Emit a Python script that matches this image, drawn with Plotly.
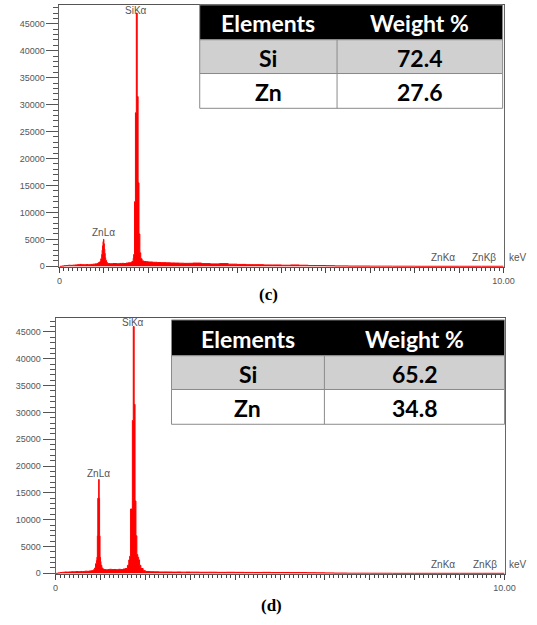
import plotly.graph_objects as go

# ---------------- data ----------------
energy_c = [0.00, 0.05, 0.10, 0.15, 0.20, 0.25, 0.30, 0.35, 0.40, 0.45, 0.50, 0.55, 0.60, 0.65,
            0.70, 0.75, 0.80, 0.85, 0.88, 0.91, 0.93, 0.95, 0.96, 0.97, 0.98, 0.99, 1.00, 1.01,
            1.02, 1.03, 1.04, 1.06, 1.08, 1.10, 1.15, 1.20, 1.25, 1.30, 1.35, 1.40, 1.45, 1.50,
            1.55, 1.60, 1.63, 1.66, 1.67, 1.69, 1.71, 1.73, 1.75, 1.77, 1.79, 1.81, 1.83, 1.86,
            1.90, 1.95, 2.00, 2.10, 2.20, 2.30, 2.40, 2.50, 2.60, 2.70, 2.80, 2.90, 3.00, 3.20,
            3.40, 3.60, 3.80, 4.00, 4.20, 4.40, 4.60, 4.80, 5.00, 5.20, 5.40, 5.60, 5.80, 6.00,
            6.20, 6.50, 7.00, 7.50, 8.00, 8.50, 9.00, 9.50, 10.00]
counts_c = [0, 60, 120, 150, 200, 180, 220, 250, 300, 350, 300, 280, 320, 300,
            350, 400, 450, 550, 700, 900, 1400, 2200, 3000, 3800, 4600, 5000, 4200, 3200,
            2400, 1600, 1100, 700, 550, 500, 480, 520, 500, 480, 530, 550, 520, 600,
            650, 700, 900, 1500, 2200, 12000, 28500, 47000, 31500, 15500, 6000, 2500, 1400, 1000,
            900, 850, 800, 750, 700, 680, 650, 620, 600, 580, 550, 560, 600, 500,
            450, 500, 400, 350, 300, 300, 250, 250, 200, 250, 200, 150, 150, 120,
            80, 50, 30, 20, 10, 10, 10, 10, 0]

energy_d = [0.00, 0.05, 0.10, 0.15, 0.20, 0.25, 0.30, 0.35, 0.40, 0.45, 0.50, 0.55, 0.60, 0.65,
            0.70, 0.75, 0.80, 0.84, 0.87, 0.89, 0.91, 0.92, 0.93, 0.94, 0.95, 0.96, 0.97, 0.98,
            0.99, 1.00, 1.01, 1.03, 1.05, 1.08, 1.12, 1.16, 1.20, 1.25, 1.30, 1.35, 1.40, 1.45,
            1.50, 1.55, 1.60, 1.63, 1.65, 1.67, 1.69, 1.71, 1.73, 1.75, 1.77, 1.79, 1.81, 1.83,
            1.85, 1.87, 1.90, 1.95, 2.00, 2.10, 2.20, 2.30, 2.40, 2.50, 2.60, 2.70, 2.80, 2.90,
            3.00, 3.20, 3.40, 3.60, 3.80, 4.00, 4.20, 4.40, 4.60, 4.80, 5.00, 5.20, 5.40, 5.60,
            5.80, 6.00, 6.20, 6.50, 7.00, 7.50, 8.00, 8.50, 9.00, 9.50, 10.00]
counts_d = [0, 80, 150, 200, 250, 230, 260, 300, 280, 330, 300, 350, 320, 400,
            380, 450, 500, 650, 1000, 1800, 2400, 3000, 7000, 14000, 14000, 17500, 14000, 7000,
            3000, 2200, 1500, 1000, 800, 700, 650, 700, 750, 700, 720, 680, 750, 700,
            800, 900, 1500, 2500, 3200, 12000, 12000, 28500, 46000, 31500, 13500, 7000, 3500, 3000,
            2500, 1500, 900, 500, 350, 300, 280, 250, 260, 250, 230, 250, 220, 240,
            220, 200, 210, 180, 200, 180, 170, 160, 180, 150, 160, 140, 150, 120,
            100, 80, 50, 30, 20, 10, 10, 10, 10, 10, 0]

y_tick_vals = [0, 5000, 10000, 15000, 20000, 25000, 30000, 35000, 40000, 45000]
x_tick_vals = [0, 1, 2, 3, 4, 5, 6, 7, 8, 9, 10]
x_tick_text = ["0", "", "", "", "", "", "", "", "", "", "10.00"]

elements = ["Si", "Zn"]
weight_c = ["72.4", "27.6"]
weight_d = ["65.2", "34.8"]
table_header = ["Elements", "Weight %"]

peak_labels = ["ZnLα", "SiKα"]
peak_energy_c = [0.99, 1.73]
peak_label_y_c = [6300, 47400]
peak_energy_d = [0.96, 1.73]
peak_label_y_d = [18700, 46700]
line_labels = ["ZnKα", "ZnKβ"]
line_energy = [8.63, 9.57]

W, H = 537, 625


def px(x):
    return x / W


def py(y):
    return 1 - y / H


fig = go.Figure()

red = "rgb(255,0,0)"
fig.add_trace(go.Scatter(x=energy_c, y=counts_c, mode="lines",
                         line=dict(color=red, width=1, shape="hv"),
                         fill="tozeroy", fillcolor=red, xaxis="x", yaxis="y", showlegend=False,
                         hoverinfo="skip"))
fig.add_trace(go.Scatter(x=energy_d, y=counts_d, mode="lines",
                         line=dict(color=red, width=1, shape="hv"),
                         fill="tozeroy", fillcolor=red, xaxis="x2", yaxis="y2", showlegend=False,
                         hoverinfo="skip"))

tickfont = dict(family="Arial, Liberation Sans, sans-serif", size=9, color="#555")


def xaxis(domain, anchor):
    return dict(domain=domain, anchor=anchor, range=[0, 10], tickmode="array",
                tickvals=x_tick_vals, ticktext=x_tick_text, ticks="outside", ticklen=5,
                tickcolor="#444", tickwidth=1, showgrid=False, zeroline=False,
                showline=True, linecolor="#555", linewidth=1, mirror=True,
                tickfont=tickfont,
                minor=dict(dtick=0.1, ticks="outside", ticklen=3, tickcolor="#444", showgrid=False))


def yaxis(domain, anchor, top):
    return dict(domain=domain, anchor=anchor, range=[-180, top], tickmode="array",
                tickvals=y_tick_vals, tickformat="d", ticks="outside", ticklen=12,
                tickcolor="#555", tickwidth=1, showgrid=False, zeroline=False,
                showline=True, linecolor="#666", linewidth=1, mirror=True,
                tickfont=tickfont,
                minor=dict(dtick=1000, ticks="outside", ticklen=5, tickcolor="#555", showgrid=False))


fig.update_layout(
    width=W, height=H, autosize=False,
    margin=dict(l=0, r=0, t=0, b=0),
    paper_bgcolor="white", plot_bgcolor="white",
    xaxis=xaxis([px(58), px(514)], "y"),
    yaxis=yaxis([py(269), py(5)], "x", 48500),
    xaxis2=xaxis([px(54), px(515)], "y2"),
    yaxis2=yaxis([py(578), py(320)], "x2", 47600),
)

shapes = []
ann = []

# tables drawn as shapes + text
tbl_family = "Lato, Open Sans, sans-serif"
tbl_size = 23


def add_table(x0, xm, x1, rows_y, weights):
    # rows_y: [top, header bottom, row1 bottom, row2 bottom]
    fills = ["black", "#d0d0d0", "white"]
    for i in range(3):
        shapes.append(dict(type="rect", xref="paper", yref="paper",
                           x0=px(x0), x1=px(x1), y0=py(rows_y[i + 1]), y1=py(rows_y[i]),
                           fillcolor=fills[i], line=dict(color="#8a8a8a", width=1), layer="above"))
    shapes.append(dict(type="line", xref="paper", yref="paper", x0=px(xm), x1=px(xm),
                       y0=py(rows_y[3]), y1=py(rows_y[1]), line=dict(color="#8a8a8a", width=1)))
    c1 = (x0 + xm) / 2
    c2 = (xm + x1) / 2
    cols = [c1, c2]
    for j, h in enumerate(table_header):
        ann.append(dict(x=px(cols[j]), y=py((rows_y[0] + rows_y[1]) / 2 + 1), xref="paper",
                        yref="paper", text="<b>%s</b>" % h, showarrow=False,
                        xanchor="center", yanchor="middle",
                        font=dict(family=tbl_family, size=tbl_size, color="white")))
    for i, (e, w) in enumerate(zip(elements, weights)):
        yc = (rows_y[i + 1] + rows_y[i + 2]) / 2 + 1
        ann.append(dict(x=px(c1), y=py(yc), xref="paper", yref="paper", text="<b>%s</b>" % e,
                        showarrow=False, xanchor="center", yanchor="middle",
                        font=dict(family=tbl_family, size=tbl_size, color="black")))
        ann.append(dict(x=px(c2), y=py(yc), xref="paper", yref="paper", text="<b>%s</b>" % w,
                        showarrow=False, xanchor="center", yanchor="middle",
                        font=dict(family=tbl_family, size=tbl_size, color="black")))


add_table(202, 343, 513, [5, 40, 74, 109], weight_c)
add_table(173, 330, 515, [322, 358, 392, 427], weight_d)

lab_font = dict(family="Arial, Liberation Sans, sans-serif", size=10, color="#555")
for lbl, e, y in zip(peak_labels, peak_energy_c, peak_label_y_c):
    ann.append(dict(x=e, y=y, xref="x", yref="y", text=lbl, showarrow=False, font=lab_font,
                    xanchor="center", yanchor="middle"))
for lbl, e, y in zip(peak_labels, peak_energy_d, peak_label_y_d):
    ann.append(dict(x=e, y=y, xref="x2", yref="y2", text=lbl, showarrow=False, font=lab_font,
                    xanchor="center", yanchor="middle"))
for lbl, e in zip(line_labels, line_energy):
    ann.append(dict(x=e, y=0, xref="x", yref="y", text=lbl, showarrow=False, font=lab_font,
                    xanchor="center", yanchor="bottom", yshift=1))
    ann.append(dict(x=e, y=0, xref="x2", yref="y2", text=lbl, showarrow=False, font=lab_font,
                    xanchor="center", yanchor="bottom", yshift=1))
ann.append(dict(x=px(518), y=0, xref="paper", yref="y", text="keV", showarrow=False, font=lab_font,
                xanchor="left", yanchor="bottom", yshift=1))
ann.append(dict(x=px(518), y=0, xref="paper", yref="y2", text="keV", showarrow=False, font=lab_font,
                xanchor="left", yanchor="bottom", yshift=1))

cap_font = dict(family="Liberation Serif, Times New Roman, serif", size=17, color="black")
ann.append(dict(x=px(273), y=py(296), xref="paper", yref="paper", text="<b>(c)</b>",
                showarrow=False, font=cap_font, xanchor="center", yanchor="middle"))
ann.append(dict(x=px(276), y=py(609), xref="paper", yref="paper", text="<b>(d)</b>",
                showarrow=False, font=cap_font, xanchor="center", yanchor="middle"))
fig.update_layout(annotations=ann, shapes=shapes)

fig.write_html("out.html")
